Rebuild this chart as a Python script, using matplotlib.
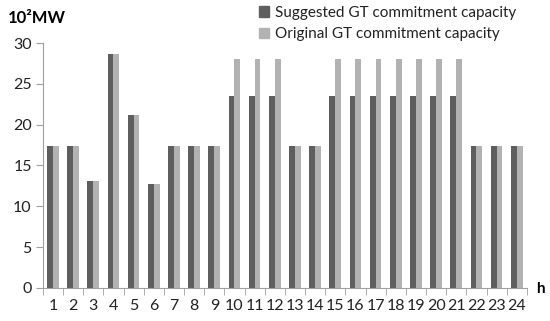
# GT commitment capacity, suggested vs original, per hour

import matplotlib.pyplot as plt
import numpy as np
from matplotlib.patches import Patch

plt.rcParams['font.family'] = ['Lato', 'DejaVu Sans']

hours = [str(h) for h in range(1, 25)]
suggested = [17.4, 17.4, 13.1, 28.6, 21.2, 12.7, 17.4, 17.4, 17.4, 23.5, 23.5, 23.5,
             17.4, 17.4, 23.5, 23.5, 23.5, 23.5, 23.5, 23.5, 23.5, 17.4, 17.4, 17.4]
original = [17.4, 17.4, 13.1, 28.6, 21.2, 12.7, 17.4, 17.4, 17.4, 28.0, 28.0, 28.0,
            17.4, 17.4, 28.0, 28.0, 28.0, 28.0, 28.0, 28.0, 28.0, 17.4, 17.4, 17.4]
yticks = [0, 5, 10, 15, 20, 25, 30]

dark = '#5e5e5e'
light = '#b2b2b2'
axis_col = '#a0a0a0'

fig = plt.figure(figsize=(5.5, 3.21), dpi=100)
ax = fig.add_axes([0.078, 0.103, 0.88, 0.763])

x = np.arange(1, 25)
w = 0.29
ax.bar(x - w / 2, suggested, w, color=dark)
ax.bar(x + w / 2, original, w, color=light)

ax.set_xlim(0.5, 24.5)
ax.set_ylim(0, 30)
ax.set_yticks(yticks)
ax.set_xticks(x)
ax.set_xticklabels(hours)
ax.set_xticks(np.arange(0.5, 25, 1), minor=True)
ax.tick_params(axis='x', which='major', length=0, pad=8, labelsize=11.5, colors='#222222')
ax.tick_params(axis='x', which='minor', length=5, color=axis_col)
ax.tick_params(axis='y', length=5, color=axis_col, labelsize=11.5, labelcolor='#222222', pad=3)
for s in ['top', 'right']:
    ax.spines[s].set_visible(False)
for s in ['left', 'bottom']:
    ax.spines[s].set_color(axis_col)

fig.text(0.015, 0.945, '10²MW', fontsize=12, fontweight='bold', ha='left', va='center')
fig.text(0.975, 0.1, 'h', fontsize=11, fontweight='bold', ha='left', va='center')

handles = [Patch(color=dark), Patch(color=light)]
fig.legend(handles, ['Suggested GT commitment capacity', 'Original GT commitment capacity'],
           loc='upper left', bbox_to_anchor=(0.445, 1.025), frameon=False, fontsize=11,
           handlelength=0.7, handleheight=0.7, handletextpad=0.4, labelspacing=0.5,
           labelcolor='#222222')

fig.savefig('out.png', dpi=100)
